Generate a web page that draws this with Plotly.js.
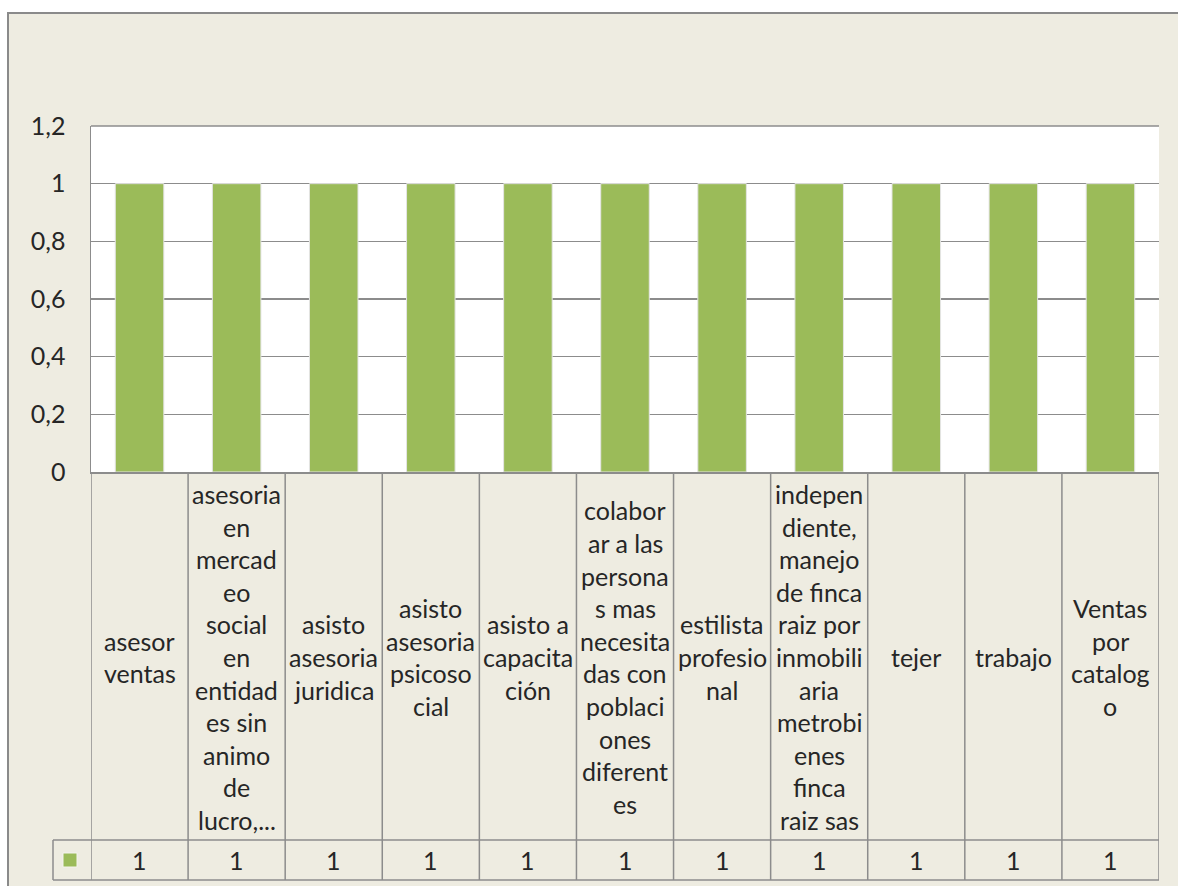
<!DOCTYPE html>
<html>
<head>
<meta charset="utf-8">
<script src="https://cdn.plot.ly/plotly-3.0.1.min.js"></script>
<style>html,body{margin:0;padding:0;background:#fff;}#chart{width:1178px;height:886px;}</style>
</head>
<body>
<div id="chart"></div>
<script>
// ---- data ----
const categories = [
  "asesor<br>ventas",
  "asesoria<br>en<br>mercad<br>eo<br>social<br>en<br>entidad<br>es sin<br>animo<br>de<br>lucro,...",
  "asisto<br>asesoria<br>juridica",
  "asisto<br>asesoria<br>psicoso<br>cial",
  "asisto a<br>capacita<br>ción",
  "colabor<br>ar a las<br>persona<br>s mas<br>necesita<br>das con<br>poblaci<br>ones<br>diferent<br>es",
  "estilista<br>profesio<br>nal",
  "indepen<br>diente,<br>manejo<br>de finca<br>raiz por<br>inmobili<br>aria<br>metrobi<br>enes<br>finca<br>raiz sas",
  "tejer",
  "trabajo",
  "Ventas<br>por<br>catalog<br>o"
];
const values = [1, 1, 1, 1, 1, 1, 1, 1, 1, 1, 1];
const yTickVals = [0, 0.2, 0.4, 0.6, 0.8, 1, 1.2];

// ---- layout helpers (pixel -> paper) ----
const W = 1178, H = 886;
const PL = 91, PR = 1159, PT = 126, PB = 472;
const pw = PR - PL, ph = PB - PT;
const px = p => (p - PL) / pw;
const py = p => (PB - p) / ph;

const FONT = "Lato, 'Open Sans', sans-serif";
const FS = 25;
const TXT = "#262626";
const LINE = "#8c8c8c";
const GREEN = "#9BBB59";
const N = categories.length;

const shapes = [
  {type:"rect", xref:"paper", yref:"paper", x0:px(8), x1:px(1195), y0:py(905), y1:py(13),
   fillcolor:"#EEECE1", line:{color:"#8a8a8a", width:2}, layer:"below"},
  {type:"rect", xref:"paper", yref:"paper", x0:0, x1:1, y0:0, y1:1,
   fillcolor:"#ffffff", line:{width:0}, layer:"below"},
  {type:"line", xref:"paper", yref:"paper", x0:0, x1:1, y0:1, y1:1, line:{color:LINE, width:1.5}},
  // table horizontal lines
  {type:"line", xref:"paper", yref:"paper", x0:px(53), x1:1, y0:py(840), y1:py(840), line:{color:LINE, width:1.5}},
  {type:"line", xref:"paper", yref:"paper", x0:px(53), x1:1, y0:py(880), y1:py(880), line:{color:LINE, width:1.5}},
  {type:"line", xref:"paper", yref:"paper", x0:px(53), x1:px(53), y0:py(880), y1:py(840), line:{color:LINE, width:1.5}},
  // legend key
  {type:"rect", xref:"paper", yref:"paper", x0:px(63), x1:px(77), y0:py(867), y1:py(853),
   fillcolor:GREEN, line:{color:"#f4f4ee", width:1}}
];
for (let i = 0; i <= N; i++) {
  shapes.push({type:"line", xref:"x", yref:"paper", x0:i-0.5, x1:i-0.5, y0:py(880), y1:0,
    line:{color:LINE, width:1.5}});
}

const annotations = [];
const LH = 32.6, CY = 657;
categories.forEach((c, i) => {
  const lines = c.split("<br>");
  const n = lines.length;
  lines.forEach((t, j) => {
    annotations.push({xref:"x", yref:"paper", x:c, y:py(CY + (j - (n-1)/2) * LH),
      text:t, showarrow:false, xanchor:"center", yanchor:"middle",
      font:{family:FONT, size:FS, color:TXT}});
  });
  annotations.push({xref:"x", yref:"paper", x:c, y:py(860), text:String(values[i]),
    showarrow:false, xanchor:"center", yanchor:"middle",
    font:{family:FONT, size:FS, color:TXT}});
});

const trace = {
  type:"bar", x:categories, y:values, width:0.5,
  marker:{color:GREEN, line:{color:"#e4e4e4", width:1}},
  hoverinfo:"skip", showlegend:false
};

const layout = {
  width:W, height:H, autosize:false,
  margin:{l:PL, r:W-PR, t:PT, b:H-PB, pad:0},
  paper_bgcolor:"#ffffff", plot_bgcolor:"#ffffff",
  separators:",.",
  showlegend:false,
  font:{family:FONT, size:FS, color:TXT},
  xaxis:{type:"category", range:[-0.5, N-0.5], showticklabels:false, ticks:"",
    showgrid:false, zeroline:false, showline:true, linecolor:LINE, linewidth:1.5, fixedrange:true},
  yaxis:{range:[0,1.2], tickvals:yTickVals, showgrid:true, gridcolor:LINE, gridwidth:1.5,
    zeroline:false, showline:true, linecolor:LINE, linewidth:1.5, ticks:"",
    ticklabelstandoff:19, tickfont:{family:FONT, size:FS, color:TXT}, fixedrange:true},
  shapes:shapes, annotations:annotations
};

Plotly.newPlot("chart", [trace], layout, {staticPlot:true, displayModeBar:false});
</script>
</body>
</html>
